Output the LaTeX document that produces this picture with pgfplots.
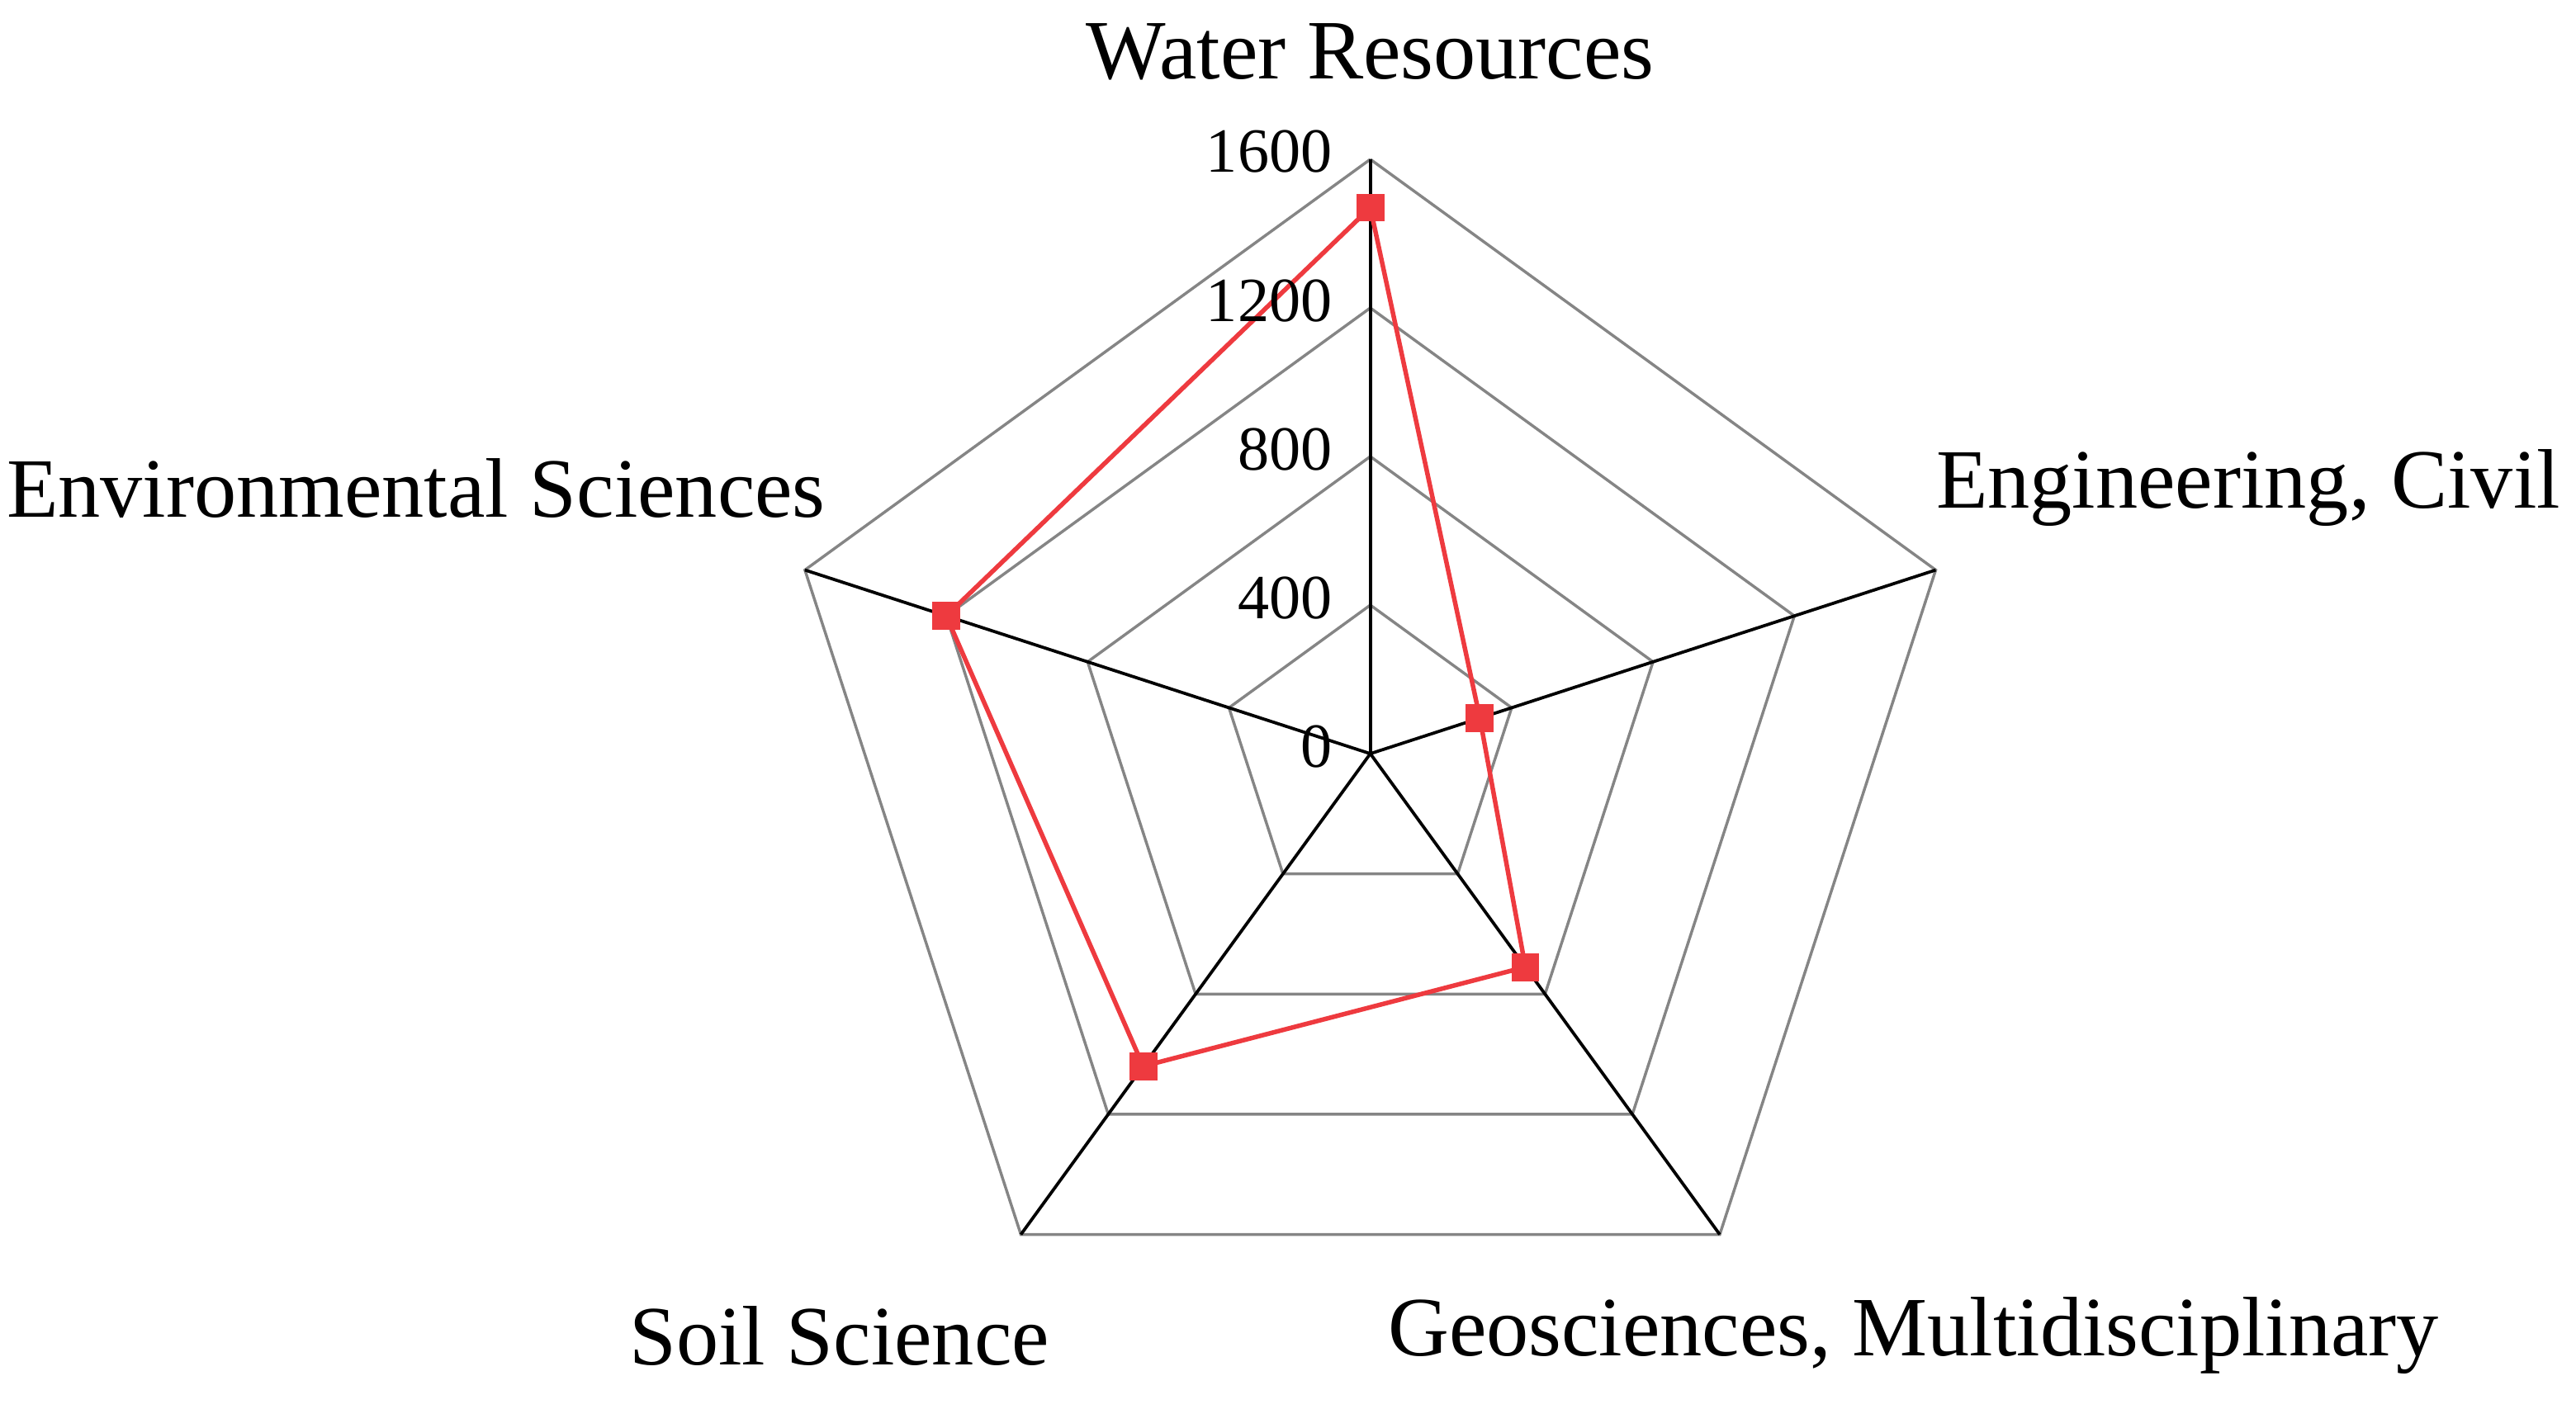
\documentclass[border=0pt]{standalone}
\usepackage{pgfplots}
\pgfplotsset{compat=1.18}
\usepackage{fontspec}
\setmainfont{Liberation Serif}

\definecolor{gridc}{HTML}{858585}
\definecolor{datac}{HTML}{EE3A3F}

\tikzset{
  ticklab/.style={anchor=east, font=\fontsize{11.1}{13}\selectfont, inner sep=0pt},
  catlab/.style={font=\fontsize{14.9}{17}\selectfont, inner sep=0pt},
}

\begin{document}
\begin{tikzpicture}
  \begin{axis}[
      x=0.0023cm, y=0.0023cm,
      xmin=-3688, xmax=3245, ymin=-1764, ymax=2029,
      hide axis, clip=false,
    ]
    % keep the whole frame as the picture's extent
    \path (rel axis cs:0,0) rectangle (rel axis cs:1,1);
    % rings
    \addplot[gridc, line width=0.5pt, data cs=polar, line join=miter]
      coordinates {(90,400) (18,400) (-54,400) (-126,400) (162,400) (90,400)};
    \addplot[gridc, line width=0.5pt, data cs=polar, line join=miter]
      coordinates {(90,800) (18,800) (-54,800) (-126,800) (162,800) (90,800)};
    \addplot[gridc, line width=0.5pt, data cs=polar, line join=miter]
      coordinates {(90,1200) (18,1200) (-54,1200) (-126,1200) (162,1200) (90,1200)};
    \addplot[gridc, line width=0.5pt, data cs=polar, line join=miter]
      coordinates {(90,1600) (18,1600) (-54,1600) (-126,1600) (162,1600) (90,1600)};
    % spokes
    \addplot[black, line width=0.55pt, data cs=polar] coordinates {(90,0) (90,1600)};
    \addplot[black, line width=0.55pt, data cs=polar] coordinates {(18,0) (18,1600)};
    \addplot[black, line width=0.55pt, data cs=polar] coordinates {(-54,0) (-54,1600)};
    \addplot[black, line width=0.55pt, data cs=polar] coordinates {(-126,0) (-126,1600)};
    \addplot[black, line width=0.55pt, data cs=polar] coordinates {(162,0) (162,1600)};
    % data
    \addplot[datac, line width=0.8pt, data cs=polar, mark=square*,
             mark size=2.4pt, mark options={fill=datac, draw=datac, line width=0pt}]
      coordinates {(90,1470) (18,310) (-54,710) (-126,1040) (162,1200) (90,1470)};
    % radial tick labels
    \node[ticklab] at (axis cs:-100,20) {0};
    \node[ticklab] at (axis cs:-100,420) {400};
    \node[ticklab] at (axis cs:-100,820) {800};
    \node[ticklab] at (axis cs:-100,1220) {1200};
    \node[ticklab] at (axis cs:-100,1620) {1600};
    % category labels
    \node[catlab] at (axis cs:0,1889) {Water Resources};
    \node[catlab, anchor=west] at (axis cs:1520,715) {Engineering, Civil};
    \node[catlab, anchor=east] at (axis cs:-1464,715) {Environmental Sciences};
    \node[catlab] at (axis cs:-1429,-1567) {Soil Science};
    \node[catlab] at (axis cs:1462,-1567) {Geosciences, Multidisciplinary};
  \end{axis}
\end{tikzpicture}
\end{document}
